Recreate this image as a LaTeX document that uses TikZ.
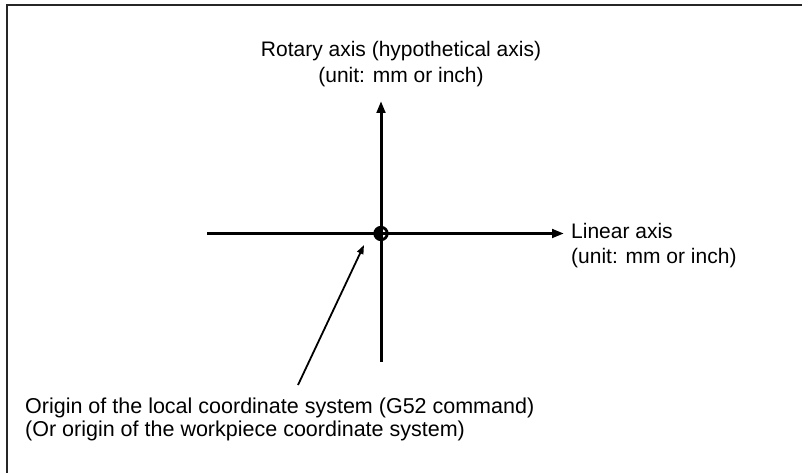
\documentclass[tikz,border=0pt]{standalone}
\usepackage{fontspec}
\setmainfont{Liberation Sans}
\usetikzlibrary{arrows.meta}
\tikzset{
  axisline/.style={line width=3bp,-{Triangle[length=12bp,width=8.5bp]}},
  pointer/.style={line width=1.8bp,-{Triangle[length=9bp,width=6.5bp]}},
  lbl/.style={inner sep=0pt,font=\fontsize{21bp}{26bp}\selectfont},
  lblb/.style={inner sep=0pt,font=\fontsize{21.5bp}{24bp}\selectfont},
  frame/.style={line width=1.8bp,draw=black!85}
}
\begin{document}
\begin{tikzpicture}[x=1bp,y=-1bp]
\useasboundingbox (0,0) rectangle (802,473);
% frame
\draw[frame] (7,480) -- (7,5) -- (810,5);
% axes
\coordinate (O) at (381,233.5);
\coordinate (hl) at (207,233.5);
\coordinate (hr) at (564,233.5);
\coordinate (vb) at (381,362);
\coordinate (vt) at (381,101);
\draw[axisline] (hl) -- (hr);
\draw[axisline] (vb) -- (vt);
% origin mark
\node[circle,draw,line width=2.8bp,minimum size=12.5bp,inner sep=0pt] (orig) at (O) {};
\fill (O) ++(0,6.25) arc[start angle=90,end angle=270,radius=6.25] -- cycle;
% labels
\node[lbl,anchor=base] (rot1) at (401,57) {Rotary axis (hypothetical axis)};
\node[lbl,anchor=base] (rot2) at (401,83) {(unit: mm or inch)};
\node[lbl,anchor=base west] (lin1) at (571,239) {Linear axis};
\node[lbl,anchor=base west] (lin2) at (571,263.5) {(unit: mm or inch)};
\node[lblb,anchor=base west] (org1) at (25,413) {Origin of the local coordinate system (G52 command)};
\node[lblb,anchor=base west] (org2) at (25,436.5) {(Or origin of the workpiece coordinate system)};
% pointer
\coordinate (ps) at (298,385);
\coordinate (pe) at (364,245);
\draw[pointer] (ps) -- (pe);
\end{tikzpicture}
\end{document}
